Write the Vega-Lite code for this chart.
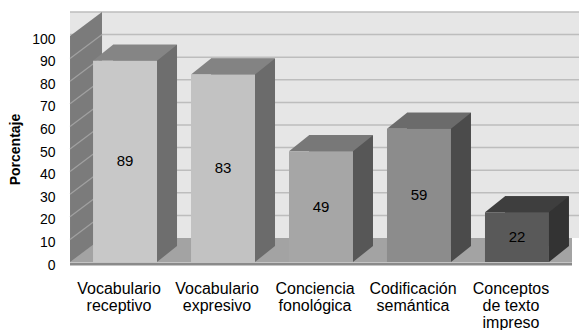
{
  "$schema": "https://vega.github.io/schema/vega-lite/v6.json",
  "width": 502,
  "height": 226,
  "autosize": "none",
  "padding": {"left": 70, "top": 36, "right": 7, "bottom": 68},
  "background": "white",
  "config": {
    "view": {"stroke": null},
    "font": "Liberation Sans",
    "axisX": {
      "labelAngle": 0,
      "labelFontSize": 16,
      "labelLineHeight": 17,
      "labelPadding": 18,
      "labelOffset": -6,
      "labelColor": "#000000",
      "labelLimit": 0,
      "labelOverlap": false,
      "labelBound": false,
      "domain": false,
      "ticks": false,
      "grid": false
    }
  },
  "datasets": {
    "bars": [
      {"cat": "Vocabulario receptivo", "value": 89},
      {"cat": "Vocabulario expresivo", "value": 83},
      {"cat": "Conciencia fonológica", "value": 49},
      {"cat": "Codificación semántica", "value": 59},
      {"cat": "Conceptos de texto impreso", "value": 22}
    ],
    "grid": [{"v": 10}, {"v": 20}, {"v": 30}, {"v": 40}, {"v": 50}, {"v": 60}, {"v": 70}, {"v": 80}, {"v": 90}, {"v": 100}],
    "one": [{"k": 1}]
  },
  "data": {"name": "bars"},
  "layer": [
    {
      "data": {"name": "one"},
      "mark": {"type": "rect", "fill": "#e6e6e6", "xOffset": 32, "x2Offset": 32, "yOffset": -24, "y2Offset": -24},
      "encoding": {
        "y": {"datum": 0, "type": "quantitative", "scale": {"domain": [0, 100]}, "axis": null},
        "y2": {"datum": 100}
      }
    },
    {
      "data": {"name": "grid"},
      "mark": {"type": "rule", "stroke": "#bdbdbd", "strokeWidth": 1.5, "xOffset": 32, "x2Offset": 32, "yOffset": -24},
      "encoding": {
        "y": {"field": "v", "type": "quantitative", "scale": {"domain": [0, 100]}, "axis": null}
      }
    },
    {
      "data": {"name": "one"},
      "mark": {"type": "rect", "fill": "#a3a3a3", "x2Offset": 32, "yOffset": -24},
      "encoding": {
        "y": {"datum": 0, "type": "quantitative", "scale": {"domain": [0, 100]}, "axis": null},
        "y2": {"datum": 0}
      }
    },
    {
      "data": {"name": "one"},
      "mark": {"type": "rule", "stroke": "#8a8a8a", "strokeWidth": 3, "yOffset": 2},
      "encoding": {
        "y": {"datum": 0, "type": "quantitative", "scale": {"domain": [0, 100]}, "axis": null}
      }
    },
    {
      "data": {"name": "one"},
      "mark": {"type": "point", "shape": "M -0.55 0 L -0.55 -2.26 L -0.23 -2.5 L -0.23 -0.24 Z", "size": 40000, "filled": true, "fill": "#7b7b7b", "opacity": 1, "strokeWidth": 0},
      "encoding": {
        "x": {"datum": "Vocabulario receptivo", "type": "nominal", "title": null,
          "axis": {"labelExpr": "datum.value == 'Conceptos de texto impreso' ? ['Conceptos', 'de texto', 'impreso'] : split(datum.value, ' ')"}},
        "y": {"datum": 0, "type": "quantitative", "scale": {"domain": [0, 100]}, "axis": null}
      }
    },
    {
      "data": {"name": "one"},
      "mark": {"type": "point", "shape": "M -0.55 -0.226 L -0.23 -0.466 M -0.55 -0.452 L -0.23 -0.692 M -0.55 -0.678 L -0.23 -0.918 M -0.55 -0.904 L -0.23 -1.144 M -0.55 -1.13 L -0.23 -1.37 M -0.55 -1.356 L -0.23 -1.596 M -0.55 -1.582 L -0.23 -1.822 M -0.55 -1.808 L -0.23 -2.048 M -0.55 -2.034 L -0.23 -2.274", "size": 40000, "filled": false, "stroke": "#a0a0a0", "strokeWidth": 1.3, "opacity": 1},
      "encoding": {
        "x": {"datum": "Vocabulario receptivo", "type": "nominal", "title": null,
          "axis": {"labelExpr": "datum.value == 'Conceptos de texto impreso' ? ['Conceptos', 'de texto', 'impreso'] : split(datum.value, ' ')"}},
        "y": {"datum": 0, "type": "quantitative", "scale": {"domain": [0, 100]}, "axis": null}
      }
    },
    {
      "mark": {"type": "bar", "xOffset": 20, "yOffset": -16, "y2Offset": -16},
      "encoding": {
        "x": {"field": "cat", "type": "nominal", "title": null,
          "axis": {"labelExpr": "datum.value == 'Conceptos de texto impreso' ? ['Conceptos', 'de texto', 'impreso'] : split(datum.value, ' ')"}},
        "y": {"field": "value", "type": "quantitative", "scale": {"domain": [0, 100]}, "axis": null},
        "fill": {
          "condition": [
            {"test": "datum.cat == 'Vocabulario receptivo'", "value": "#6e6e6e"},
            {"test": "datum.cat == 'Vocabulario expresivo'", "value": "#6b6b6b"},
            {"test": "datum.cat == 'Conciencia fonológica'", "value": "#575757"},
            {"test": "datum.cat == 'Codificación semántica'", "value": "#4b4b4b"}
          ],
          "value": "#333333"
        }
      }
    },
    {
      "mark": {"type": "point", "shape": "M 0.32 0 L 0.52 -0.16 L 0.32 -0.16 Z", "size": 40000, "filled": true, "opacity": 1, "strokeWidth": 0},
      "encoding": {
        "x": {"field": "cat", "type": "nominal", "title": null,
          "axis": {"labelExpr": "datum.value == 'Conceptos de texto impreso' ? ['Conceptos', 'de texto', 'impreso'] : split(datum.value, ' ')"}},
        "y": {"datum": 0, "type": "quantitative", "scale": {"domain": [0, 100]}, "axis": null},
        "fill": {
          "condition": [
            {"test": "datum.cat == 'Vocabulario receptivo'", "value": "#6e6e6e"},
            {"test": "datum.cat == 'Vocabulario expresivo'", "value": "#6b6b6b"},
            {"test": "datum.cat == 'Conciencia fonológica'", "value": "#575757"},
            {"test": "datum.cat == 'Codificación semántica'", "value": "#4b4b4b"}
          ],
          "value": "#333333"
        }
      }
    },
    {
      "mark": {"type": "point", "shape": "M -0.32 0 L 0.32 0 L 0.52 -0.16 L -0.12 -0.16 Z", "size": 40000, "filled": true, "opacity": 1, "strokeWidth": 0},
      "encoding": {
        "x": {"field": "cat", "type": "nominal", "title": null,
          "axis": {"labelExpr": "datum.value == 'Conceptos de texto impreso' ? ['Conceptos', 'de texto', 'impreso'] : split(datum.value, ' ')"}},
        "y": {"field": "value", "type": "quantitative", "scale": {"domain": [0, 100]}, "axis": null},
        "fill": {
          "condition": [
            {"test": "datum.cat == 'Vocabulario receptivo'", "value": "#858585"},
            {"test": "datum.cat == 'Vocabulario expresivo'", "value": "#838383"},
            {"test": "datum.cat == 'Conciencia fonológica'", "value": "#787878"},
            {"test": "datum.cat == 'Codificación semántica'", "value": "#6b6b6b"}
          ],
          "value": "#3e3e3e"
        }
      }
    },
    {
      "mark": {"type": "bar"},
      "encoding": {
        "x": {
          "field": "cat",
          "type": "nominal",
          "sort": null,
          "title": null,
          "scale": {
            "domain": ["Vocabulario receptivo", "Vocabulario expresivo", "Conciencia fonológica", "Codificación semántica", "Conceptos de texto impreso"],
            "paddingInner": 0.347,
            "paddingOuter": 0.235
          },
          "axis": {"labelExpr": "datum.value == 'Conceptos de texto impreso' ? ['Conceptos', 'de texto', 'impreso'] : split(datum.value, ' ')"}
        },
        "y": {
          "field": "value",
          "type": "quantitative",
          "scale": {"domain": [0, 100]},
          "axis": {
            "title": "Porcentaje",
            "titleFontSize": 14,
            "titleFontWeight": "bold",
            "titleColor": "#000000",
            "titlePadding": 9,
            "values": [0, 10, 20, 30, 40, 50, 60, 70, 80, 90, 100],
            "labelFontSize": 14,
            "labelColor": "#000000",
            "labelPadding": 15,
            "labelOffset": 3,
            "grid": false,
            "domain": false,
            "ticks": false
          }
        },
        "fill": {
          "condition": [
            {"test": "datum.cat == 'Vocabulario receptivo'", "value": "#c8c8c8"},
            {"test": "datum.cat == 'Vocabulario expresivo'", "value": "#c2c2c2"},
            {"test": "datum.cat == 'Conciencia fonológica'", "value": "#a6a6a6"},
            {"test": "datum.cat == 'Codificación semántica'", "value": "#8c8c8c"}
          ],
          "value": "#595959"
        }
      }
    },
    {
      "mark": {"type": "text", "fontSize": 15, "fill": "#000000"},
      "encoding": {
        "x": {"field": "cat", "type": "nominal", "title": null,
          "axis": {"labelExpr": "datum.value == 'Conceptos de texto impreso' ? ['Conceptos', 'de texto', 'impreso'] : split(datum.value, ' ')"}},
        "y": {"field": "value", "type": "quantitative", "scale": {"domain": [0, 200]}, "axis": null},
        "text": {"field": "value", "type": "quantitative"}
      }
    }
  ],
  "resolve": {"scale": {"y": "independent"}}
}
